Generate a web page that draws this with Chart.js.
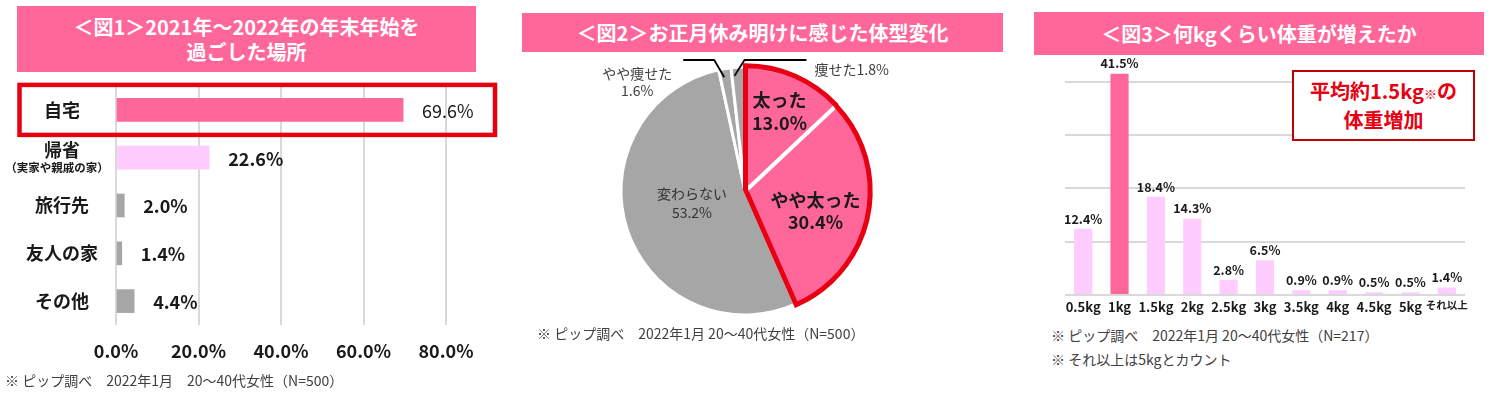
<!DOCTYPE html>
<html><head><meta charset="utf-8">
<script src="https://cdn.jsdelivr.net/npm/chart.js@4.4.1/dist/chart.umd.min.js"></script>
<style>
body{margin:0;width:1494px;height:398px;position:relative;background:#fff;overflow:hidden;font-family:'Noto Sans CJK JP','Noto Sans',sans-serif;}
.title{position:absolute;background:#FF6699;color:#fff;font-weight:bold;font-size:20px;display:flex;align-items:center;justify-content:center;text-align:center;line-height:25px;}
.note{position:absolute;font-size:14px;color:#404040;white-space:pre;line-height:24px;}
.redbox{position:absolute;box-sizing:border-box;border:2px solid #C00000;background:#fff;color:#E60012;font-weight:bold;font-size:20px;line-height:26px;text-align:center;display:flex;align-items:center;justify-content:center;}
canvas{position:absolute;}
</style></head>
<body>
<div class="title" style="left:17px;top:6px;width:459px;height:66px;">＜図1＞2021年〜2022年の年末年始を<br>過ごした場所</div>
<div class="title" style="left:522px;top:13px;width:481px;height:39px;">＜図2＞お正月休み明けに感じた体型変化</div>
<div class="title" style="left:1034px;top:12px;width:450px;height:43px;">＜図3＞何kgくらい体重が増えたか</div>

<canvas id="c1" width="505" height="370" style="left:0;top:0;"></canvas>
<canvas id="c2" width="450" height="272" style="left:520px;top:55px;"></canvas>
<canvas id="c3" width="450" height="265" style="left:1040px;top:55px;"></canvas>

<div class="redbox" style="left:1292px;top:70px;width:183px;height:71px;"><div>平均約1.5kg<span style="font-size:13px;">※</span>の<br>体重増加</div></div>

<div class="note" style="left:5px;top:368px;">※ ピップ調べ　2022年1月　20〜40代女性（N=500）</div>
<div class="note" style="left:537px;top:321px;">※ ピップ調べ　2022年1月 20〜40代女性（N=500）</div>
<div class="note" style="left:1051px;top:323px;">※ ピップ調べ　2022年1月 20〜40代女性（N=217）<br>※ それ以上は5kgとカウント</div>

<script>
// ---- data ----
const placeLabels = ['自宅', '帰省', '旅行先', '友人の家', 'その他'];
const placeSubLabels = ['', '（実家や親戚の家）', '', '', ''];
const placeValues = [69.6, 22.6, 2.0, 1.4, 4.4];
const placeTicks = [0, 20, 40, 60, 80];

const shapeLabels = ['太った', 'やや太った', '変わらない', 'やや痩せた', '痩せた'];
const shapeValues = [13.0, 30.4, 53.2, 1.6, 1.8];

const kgLabels = ['0.5kg', '1kg', '1.5kg', '2kg', '2.5kg', '3kg', '3.5kg', '4kg', '4.5kg', '5kg', 'それ以上'];
const kgValues = [12.4, 41.5, 18.4, 14.3, 2.8, 6.5, 0.9, 0.9, 0.5, 0.5, 1.4];
const kgTicks = [0, 10, 20, 30, 40];

// ---- style ----
const F = "'Noto Sans CJK JP','Noto Sans',sans-serif";
const PINK = '#FF6699', LPINK = '#FFCCFF', GRAY = '#A6A6A6', GRID = '#D9D9D9', TXT = '#1a1a1a';
const pct = v => v.toFixed(1) + '%';

// ---- chart 1 ----
const plot1 = {
  id: 'plot1',
  afterDatasetsDraw(chart) {
    const ctx = chart.ctx, ys = chart.scales.y, area = chart.chartArea;
    const meta = chart.getDatasetMeta(0);
    ctx.save();
    const y0 = ys.getPixelForValue(0);
    ctx.strokeStyle = '#E60012';
    ctx.lineWidth = 4.5;
    ctx.strokeRect(19.5, y0 - 25, area.right + 49 - 19.5, 50);
    ctx.fillStyle = TXT;
    ctx.textAlign = 'center';
    ctx.textBaseline = 'middle';
    placeLabels.forEach((lab, i) => {
      const y = ys.getPixelForValue(i);
      if (placeSubLabels[i]) {
        ctx.font = 'bold 18px ' + F;
        ctx.fillText(lab, 62, y - 8);
        ctx.font = 'bold 11.5px ' + F;
        ctx.fillText(placeSubLabels[i], 57, y + 10);
      } else {
        ctx.font = 'bold 18px ' + F;
        ctx.fillText(lab, 62, y);
      }
    });
    ctx.textAlign = 'left';
    meta.data.forEach((bar, i) => {
      ctx.font = (i === 0 ? 'normal' : 'bold') + ' 18px ' + F;
      ctx.fillText(pct(placeValues[i]), bar.x + 19, bar.y + 1);
    });
    ctx.restore();
  }
};

new Chart(document.getElementById('c1'), {
  type: 'bar',
  data: {
    labels: placeLabels,
    datasets: [{
      data: placeValues,
      backgroundColor: [PINK, LPINK, GRAY, GRAY, GRAY],
      barThickness: 23
    }]
  },
  options: {
    indexAxis: 'y',
    responsive: false,
    animation: false,
    layout: { padding: { top: 86, left: 116, right: 59, bottom: 0 } },
    plugins: { legend: { display: false }, tooltip: { enabled: false } },
    scales: {
      x: {
        min: 0, max: 80,
        afterBuildTicks: s => { s.ticks = placeTicks.map(v => ({ value: v })); },
        afterFit: s => { s.height = 45; },
        grid: { color: GRID, lineWidth: 2, drawTicks: false },
        border: { display: false },
        ticks: { padding: 15, color: TXT, font: { family: F, size: 18, weight: 'bold' }, callback: v => pct(v) }
      },
      y: { display: false }
    }
  },
  plugins: [plot1]
});

// ---- chart 2 ----
const plot2 = {
  id: 'plot2',
  afterDatasetsDraw(chart) {
    const ctx = chart.ctx;
    const arcs = chart.getDatasetMeta(0).data;
    const tr = a => {
      const o = (a.options.offset || 0) / 4, h = (a.startAngle + a.endAngle) / 2;
      return [Math.cos(h) * o, Math.sin(h) * o];
    };
    ctx.save();
    const a0 = arcs[0], a1 = arcs[1];
    const t0 = tr(a0), t1 = tr(a1);
    const R = a0.outerRadius;
    ctx.beginPath();
    ctx.moveTo(a0.x + t0[0], a0.y + t0[1]);
    ctx.arc(a0.x + t0[0], a0.y + t0[1], R, a0.startAngle, a0.endAngle);
    ctx.arc(a1.x + t1[0], a1.y + t1[1], R, a1.startAngle, a1.endAngle);
    ctx.lineTo(a1.x + t1[0], a1.y + t1[1]);
    ctx.closePath();
    ctx.strokeStyle = '#E60012';
    ctx.lineWidth = 5;
    ctx.lineJoin = 'miter';
    ctx.stroke();

    const pos = (a, f) => {
      const m = (a.startAngle + a.endAngle) / 2, t = tr(a);
      return [a.x + t[0] + Math.cos(m) * a.outerRadius * f, a.y + t[1] + Math.sin(m) * a.outerRadius * f];
    };
    ctx.textAlign = 'center';
    ctx.textBaseline = 'middle';
    ctx.fillStyle = TXT;
    ctx.font = 'bold 18px ' + F;
    let p = pos(arcs[0], 0.69);
    ctx.fillText(shapeLabels[0], p[0], p[1] - 11);
    ctx.fillText(pct(shapeValues[0]), p[0], p[1] + 12);
    p = pos(arcs[1], 0.57);
    ctx.fillText(shapeLabels[1], p[0], p[1] - 5);
    ctx.fillText(pct(shapeValues[1]), p[0], p[1] + 17);
    ctx.fillStyle = '#333';
    ctx.font = '14px ' + F;
    p = pos(arcs[2], 0.45);
    ctx.fillText(shapeLabels[2], p[0], p[1] - 15);
    ctx.fillText(pct(shapeValues[2]), p[0], p[1] + 4);

    const top = a0.y - R - 7;
    ctx.strokeStyle = '#000';
    ctx.lineWidth = 1.8;
    ctx.lineJoin = 'round';
    let q = pos(arcs[3], 0.93);
    ctx.beginPath();
    ctx.moveTo(q[0] - 2, q[1]);
    ctx.lineTo(q[0] - 12, top);
    ctx.lineTo(q[0] - 43, top);
    ctx.stroke();
    ctx.fillStyle = '#404040';
    ctx.font = '14px ' + F;
    ctx.fillText(shapeLabels[3], q[0] - 89, top + 14);
    ctx.fillText(pct(shapeValues[3]), q[0] - 89, top + 31);

    q = pos(arcs[4], 0.93);
    ctx.beginPath();
    ctx.moveTo(q[0] - 4, q[1]);
    ctx.lineTo(q[0] + 6, top);
    ctx.lineTo(q[0] + 68, top);
    ctx.stroke();
    ctx.textAlign = 'left';
    ctx.fillText(shapeLabels[4] + pct(shapeValues[4]), q[0] + 76, top + 10);
    ctx.restore();
  }
};

new Chart(document.getElementById('c2'), {
  type: 'pie',
  data: {
    labels: shapeLabels,
    datasets: [{
      data: shapeValues,
      backgroundColor: [PINK, PINK, GRAY, GRAY, GRAY],
      borderColor: '#fff',
      borderWidth: [2.5, 2.5, 3, 3, 3],
      offset: [5, 5, 0, 0, 0]
    }]
  },
  options: {
    responsive: false,
    animation: false,
    radius: 124,
    layout: { padding: 0 },
    plugins: { legend: { display: false }, tooltip: { enabled: false } }
  },
  plugins: [plot2]
});

// ---- chart 3 ----
const plot3 = {
  id: 'plot3',
  afterDatasetsDraw(chart) {
    const ctx = chart.ctx;
    ctx.save();
    ctx.fillStyle = TXT;
    ctx.font = 'bold 12.5px ' + F;
    ctx.textAlign = 'center';
    ctx.textBaseline = 'middle';
    chart.getDatasetMeta(0).data.forEach((bar, i) => {
      ctx.fillText(pct(kgValues[i]), bar.x, bar.y - 10);
    });
    ctx.restore();
  }
};

new Chart(document.getElementById('c3'), {
  type: 'bar',
  data: {
    labels: kgLabels,
    datasets: [{
      data: kgValues,
      backgroundColor: [LPINK, PINK, LPINK, LPINK, LPINK, LPINK, LPINK, LPINK, LPINK, LPINK, LPINK],
      barPercentage: 0.5,
      categoryPercentage: 1
    }]
  },
  options: {
    responsive: false,
    animation: false,
    layout: { padding: { left: 25, right: 25, top: 0, bottom: 0 } },
    plugins: { legend: { display: false }, tooltip: { enabled: false } },
    scales: {
      x: {
        grid: { display: false, drawTicks: false },
        border: { display: false },
        afterFit: s => { s.height = 25; },
        ticks: {
          padding: 4, color: TXT, maxRotation: 0, autoSkip: false,
          font: c => ({ family: F, size: c.index === kgLabels.length - 1 ? 10.5 : 13, weight: 'bold' })
        }
      },
      y: {
        min: 0, max: 45,
        afterBuildTicks: s => { s.ticks = kgTicks.map(v => ({ value: v })); },
        afterFit: s => { s.width = 0; },
        ticks: { display: false },
        grid: { color: GRID, lineWidth: 2, drawTicks: false },
        border: { display: false }
      }
    }
  },
  plugins: [plot3]
});
</script>
</body></html>
